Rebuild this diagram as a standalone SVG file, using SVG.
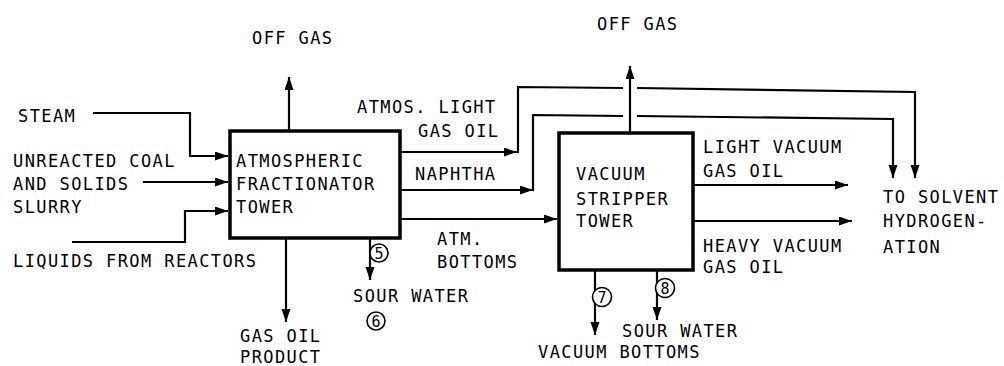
<svg xmlns="http://www.w3.org/2000/svg" width="1004" height="366" viewBox="0 0 1004 366">
<style>
text{font-family:"DejaVu Sans Mono","Liberation Mono",monospace;font-size:17px;letter-spacing:1.4px;fill:#000}
.box{fill:#fff;stroke:#000;stroke-width:3.5}
.ln{fill:none;stroke:#000;stroke-width:2.2}
.arr{fill:none;stroke:#000;stroke-width:2.2;marker-end:url(#ah)}
.num{fill:#fff;stroke:#000;stroke-width:1.6}
.nt{font-size:15px;letter-spacing:0;text-anchor:middle}
</style>
<defs>
<marker id="ah" markerUnits="userSpaceOnUse" markerWidth="14" markerHeight="10" refX="13" refY="4.5" orient="auto">
<path d="M0,0 L13,4.5 L0,9 z" fill="#000"/>
</marker>
</defs>
<rect width="1004" height="366" fill="#fff"/>
<g id="connectors">
<polyline class="arr" points="93,113 190,113 190,156 228,156"/>
<line class="arr" x1="143" y1="182" x2="228" y2="182"/>
<polyline class="arr" points="72,242 185,242 185,211 228,211"/>
<line class="arr" x1="289" y1="130" x2="289" y2="77"/>
<line class="arr" x1="286" y1="238" x2="286" y2="322"/>
<line class="arr" x1="370" y1="238" x2="370" y2="280"/>
<line class="arr" x1="400" y1="152" x2="517" y2="152"/>
<polyline class="ln" points="518,153 518,87 623,88"/>
<polyline class="arr" points="637,88 915,92 915,178"/>
<line class="arr" x1="400" y1="190" x2="533" y2="190"/>
<polyline class="ln" points="533,191 533,115 623,116"/>
<polyline class="arr" points="637,116 893,119 893,178"/>
<line class="arr" x1="400" y1="219" x2="557" y2="219"/>
<line class="arr" x1="630" y1="133" x2="630" y2="66"/>
<line class="arr" x1="595" y1="270" x2="595" y2="335"/>
<line class="arr" x1="657" y1="270" x2="657" y2="320"/>
<line class="arr" x1="693" y1="185" x2="848" y2="185"/>
<line class="arr" x1="693" y1="221" x2="852" y2="221"/>
</g>
<g id="atmospheric-fractionator">
<rect class="box" x="230" y="131" width="170" height="107"/>
<text x="236" y="167">ATMOSPHERIC</text>
<text x="236" y="190">FRACTIONATOR</text>
<text x="236" y="213">TOWER</text>
</g>
<g id="vacuum-stripper">
<rect class="box" x="559" y="133" width="134" height="137"/>
<text x="576" y="180">VACUUM</text>
<text x="576" y="205">STRIPPER</text>
<text x="576" y="227">TOWER</text>
</g>
<g id="labels">
<text x="252" y="44">OFF GAS</text>
<text x="597" y="30">OFF GAS</text>
<text x="18" y="122">STEAM</text>
<text x="13" y="167">UNREACTED COAL</text>
<text x="13" y="190">AND SOLIDS</text>
<text x="13" y="213">SLURRY</text>
<text x="13" y="267">LIQUIDS FROM REACTORS</text>
<text x="240" y="342">GAS OIL</text>
<text x="240" y="363">PRODUCT</text>
<text x="357" y="113">ATMOS. LIGHT</text>
<text x="418" y="137">GAS OIL</text>
<text x="415" y="180">NAPHTHA</text>
<text x="437" y="245">ATM.</text>
<text x="437" y="268">BOTTOMS</text>
<text x="353" y="302">SOUR WATER</text>
<text x="622" y="337">SOUR WATER</text>
<text x="538" y="358">VACUUM BOTTOMS</text>
<text x="703" y="153">LIGHT VACUUM</text>
<text x="703" y="177">GAS OIL</text>
<text x="703" y="252">HEAVY VACUUM</text>
<text x="703" y="273">GAS OIL</text>
<text x="883" y="203">TO SOLVENT</text>
<text x="883" y="227">HYDROGEN-</text>
<text x="883" y="253">ATION</text>
</g>
<g id="stream-numbers">
<circle class="num" cx="379" cy="253" r="9"/><text class="nt" x="379" y="258.5">5</text>
<circle class="num" cx="376" cy="321" r="9"/><text class="nt" x="376" y="326.5">6</text>
<circle class="num" cx="602" cy="297" r="9.5"/><text class="nt" x="602" y="302.5">7</text>
<circle class="num" cx="665" cy="288" r="9.5"/><text class="nt" x="665" y="293.5">8</text>
</g>
</svg>
